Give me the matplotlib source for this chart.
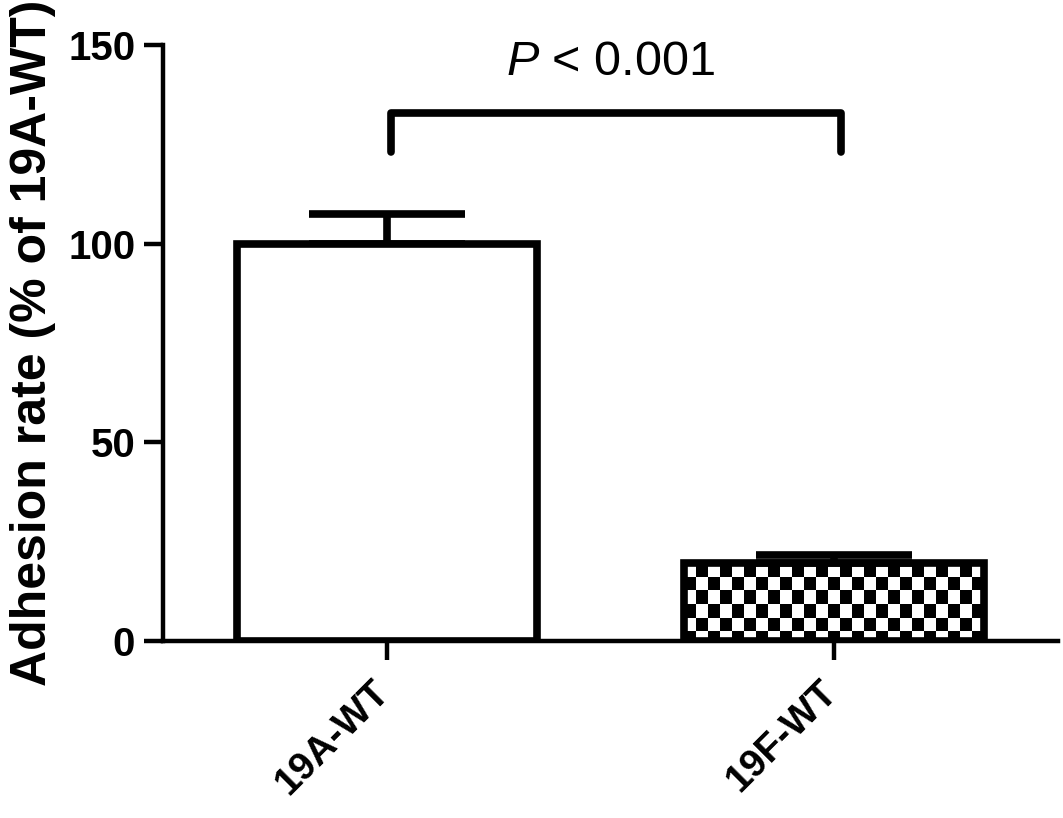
import numpy as np
import matplotlib
matplotlib.use("Agg")
import matplotlib.pyplot as plt
from matplotlib.transforms import ScaledTranslation

plt.rcParams['font.family'] = ['Liberation Sans', 'DejaVu Sans']
plt.rcParams['mathtext.fontset'] = 'custom'
plt.rcParams['mathtext.rm'] = 'Liberation Sans'
plt.rcParams['mathtext.it'] = 'Liberation Sans:italic'

# data
groups = ['19A-WT', '19F-WT']
means = [100.0, 19.6]
sem = [7.5, 2.0]
p_text = '$\\mathit{P}$ < 0.001'
y_ticks = [0, 50, 100, 150]

LW = 5.5

fig = plt.figure(figsize=(10.63, 8.18), dpi=100)
ax = fig.add_axes([0.1533, 0.2164, 0.842, 0.7286])

x = np.arange(len(groups))
bars = ax.bar(x, means, width=0.67, facecolor=['white', 'none'],
              edgecolor='black', linewidth=LW, zorder=3)
ax.errorbar(x, means, yerr=[np.zeros(len(sem)), sem], fmt='none',
            ecolor='black', elinewidth=LW, capsize=56, capthick=LW, zorder=2.5)

# checkerboard fill of the second bar
p = bars[1]
bx, by, bw, bh = p.get_x(), p.get_y(), p.get_width(), p.get_height()
nx = int(round(bw / 0.0268))
ny = int(round(bh / 3.0))
checker = (np.add.outer(np.arange(ny), np.arange(nx)) % 2).astype(float)
img = ax.imshow(checker, cmap='gray_r', interpolation='nearest', aspect='auto',
                extent=(bx, bx + nx * 0.0268, by + bh - ny * 3.0 - 3.0, by + bh),
                zorder=2)
img.set_clip_path(p)

# significance bracket
ax.plot([0.01, 0.01, 1.015, 1.015], [123, 133, 133, 123], color='black',
        lw=LW, solid_capstyle='round', solid_joinstyle='round', clip_on=False)
ax.text(0.5, 145.5, p_text, ha='center', va='center', fontsize=35)

ax.set_xlim(-0.5, 1.5)
ax.set_ylim(0, 150)
ax.set_yticks(y_ticks)
ax.set_xticks(x)
ax.set_xticklabels(groups, rotation=45, ha='right', fontweight='bold', fontsize=28)
ax.tick_params(axis='y', labelsize=29, length=14, width=3.2, pad=6)
ax.tick_params(axis='x', length=14, width=3.2, pad=10)
for lab in ax.get_yticklabels():
    lab.set_fontweight('bold')
shift = ScaledTranslation(0.10, 0, fig.dpi_scale_trans)
for lab in ax.get_xticklabels():
    lab.set_transform(lab.get_transform() + shift)
ax.set_ylabel('Adhesion rate (% of 19A-WT)', fontsize=36, fontweight='bold', labelpad=9)

for s in ['top', 'right']:
    ax.spines[s].set_visible(False)
for s in ['left', 'bottom']:
    ax.spines[s].set_linewidth(3.2)

fig.savefig('out.png', dpi=100)
